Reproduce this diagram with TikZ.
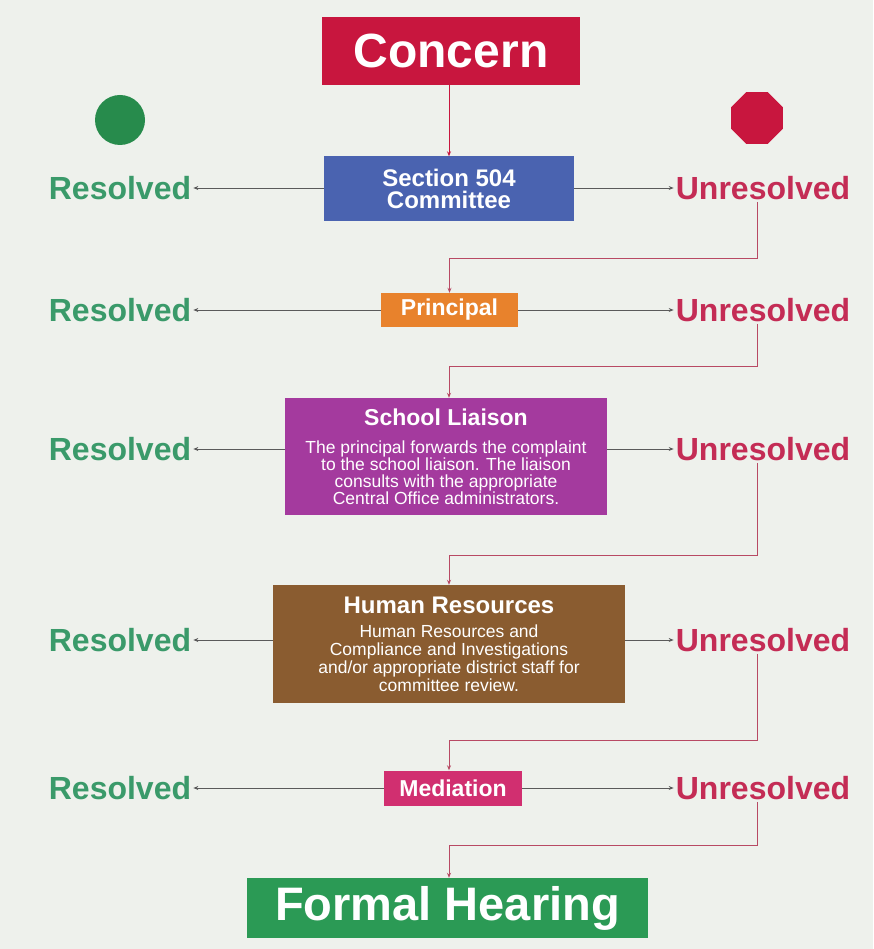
\documentclass[tikz,border=0pt]{standalone}
\usepackage{fontspec}
\setmainfont{Liberation Sans}
\usetikzlibrary{arrows.meta}
\definecolor{paper}{HTML}{EEF1EC}
\definecolor{concernred}{HTML}{C8163E}
\definecolor{committeeblue}{HTML}{4A63B0}
\definecolor{principalorange}{HTML}{E8822C}
\definecolor{liaisonpurple}{HTML}{A43A9E}
\definecolor{hrbrown}{HTML}{8A5C30}
\definecolor{mediationpink}{HTML}{D12F70}
\definecolor{hearinggreen}{HTML}{2B9A55}
\definecolor{okgreen}{HTML}{3A9A6A}
\definecolor{notred}{HTML}{C42C55}
\definecolor{linkgray}{HTML}{5A5A5A}
\definecolor{linkred}{HTML}{B84A64}

\begin{document}
\begin{tikzpicture}[x=1pt,y=-1pt,
  box/.style={fill=#1,text=white,align=center,inner sep=0pt},
  okay/.style={text=okgreen,font=\fontsize{32}{32}\selectfont\bfseries,inner sep=2pt},
  notokay/.style={text=notred,font=\fontsize{32}{32}\selectfont\bfseries,inner sep=2pt},
  side/.style={draw=linkgray,line width=0.9pt,-{Stealth[length=5pt,width=4pt]}},
  flow/.style={draw=linkred,line width=0.9pt,-{Stealth[length=5pt,width=4pt]}}]
\useasboundingbox (0,0) rectangle (873,949);
\fill[paper] (0,0) rectangle (873,949);
% signal lights
\fill[hearinggreen!90!black] (120,120) circle (25);
\fill[concernred] (757,118) +(22.5:28)
  \foreach \a in {67.5,112.5,...,337.5} {-- +(\a:28)} -- cycle;
% boxes
\node[box=concernred,minimum width=258,minimum height=68,
  font=\fontsize{48}{48}\selectfont\bfseries] (concern) at (451,51) {Concern};
\node[box=committeeblue,minimum width=250,minimum height=65,
  font=\fontsize{24}{22}\selectfont\bfseries] (c504) at (449,189)
  {Section 504\\Committee};
\node[box=principalorange,minimum width=137,minimum height=34,
  font=\fontsize{23}{23}\selectfont\bfseries] (princ) at (449.5,310) {Principal};
\node[box=liaisonpurple,minimum width=322,minimum height=117,
  font=\fontsize{17.5}{17}\selectfont] (liaison) at (446,456.5)
  {{\fontsize{23}{23}\selectfont\bfseries School Liaison}\\[11pt]
   The principal forwards the complaint\\
   to the school liaison. The liaison\\
   consults with the appropriate\\
   Central Office administrators.};
\node[box=hrbrown,minimum width=352,minimum height=118,
  font=\fontsize{17.5}{18}\selectfont] (hr) at (449,644)
  {{\fontsize{24}{24}\selectfont\bfseries Human Resources}\\[6pt]
   Human Resources and\\
   Compliance and Investigations\\
   and/or appropriate district staff for\\
   committee review.};
\node[box=mediationpink,minimum width=138,minimum height=35,
  font=\fontsize{23}{23}\selectfont\bfseries] (med) at (453,788) {Mediation};
\node[box=hearinggreen,minimum width=401,minimum height=60,
  font=\fontsize{47}{47}\selectfont\bfseries] (formal) at (447.5,908)
  {Formal Hearing};
% outcomes
\node[okay] (r1) at (120,188) {Resolved};
\node[okay] (r2) at (120,310) {Resolved};
\node[okay] (r3) at (120,449) {Resolved};
\node[okay] (r4) at (120,640) {Resolved};
\node[okay] (r5) at (120,788) {Resolved};
\node[notokay] (u1) at (763,188) {Unresolved};
\node[notokay] (u2) at (763,310) {Unresolved};
\node[notokay] (u3) at (763,449) {Unresolved};
\node[notokay] (u4) at (763,640) {Unresolved};
\node[notokay] (u5) at (763,788) {Unresolved};
% turning points
\coordinate (k1) at (757,258);
\coordinate (k2) at (757,366);
\coordinate (k3) at (757,555);
\coordinate (k4) at (757,740);
\coordinate (k5) at (757,845);
% links
\draw[flow,draw=concernred] (concern.south -| c504) -- (c504);
\draw[side] (c504.west |- r1) -- (r1.east);
\draw[side] (c504.east |- u1) -- (u1.west);
\draw[side] (princ.west |- r2) -- (r2.east);
\draw[side] (princ.east |- u2) -- (u2.west);
\draw[side] (liaison.west |- r3) -- (r3.east);
\draw[side] (liaison.east |- u3) -- (u3.west);
\draw[side] (hr.west |- r4) -- (r4.east);
\draw[side] (hr.east |- u4) -- (u4.west);
\draw[side] (med.west |- r5) -- (r5.east);
\draw[side] (med.east |- u5) -- (u5.west);
\draw[flow] (u1.south -| k1) -- (k1) -| (princ.north);
\draw[flow] (u2.south -| k2) -- (k2) -| ([xshift=3pt]liaison.north);
\draw[flow] (u3.south -| k3) -- (k3) -| (hr.north);
\draw[flow] (u4.south -| k4) -- (k4) -| ([xshift=-4pt]med.north);
\draw[flow] (u5.south -| k5) -- (k5) -| ([xshift=1.5pt]formal.north);
\end{tikzpicture}
\end{document}
